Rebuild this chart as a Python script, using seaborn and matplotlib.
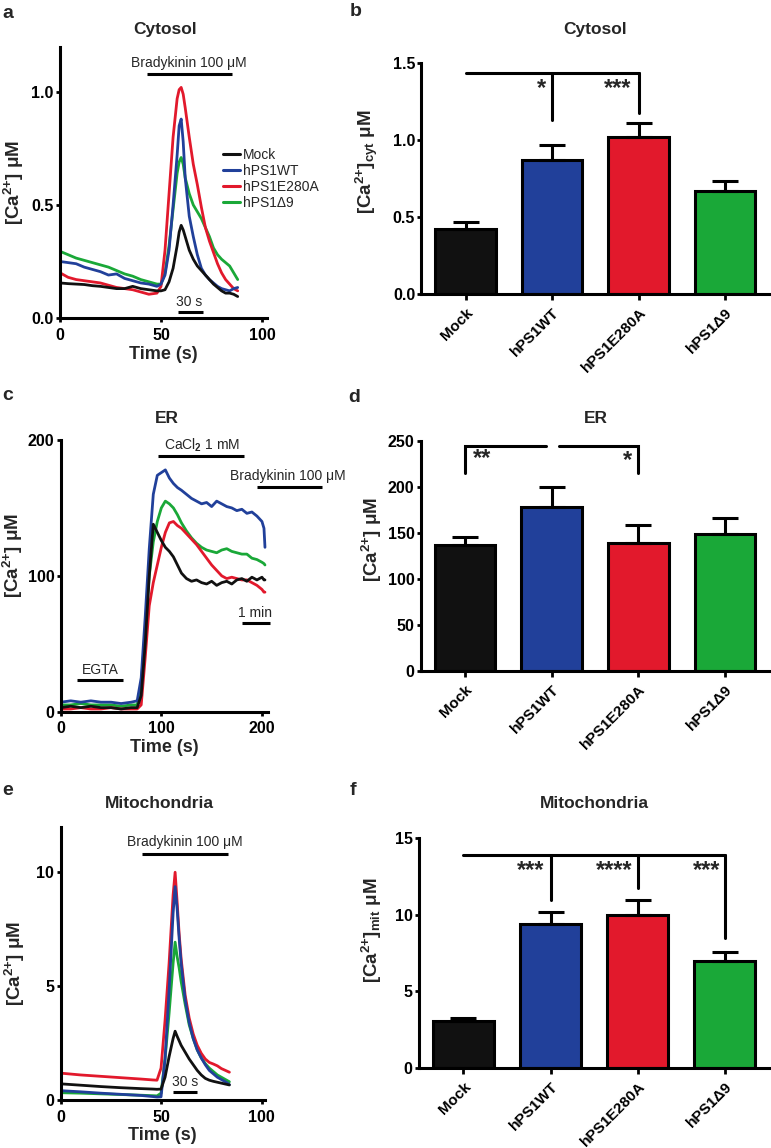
import numpy as np
import pandas as pd
import matplotlib
matplotlib.use('Agg')
import matplotlib.pyplot as plt
import seaborn as sns

# Groups and colours
groups = ['Mock', 'hPS1WT', 'hPS1E280A', 'hPS1Δ9']
colors = ['#111111', '#21409a', '#e2192c', '#1aa838']

# Bar values (mean and upper SEM)
cyt_mean = [0.42, 0.87, 1.02, 0.67]
cyt_sem = [0.05, 0.10, 0.09, 0.065]
er_mean = [137, 178, 139, 149]
er_sem = [9, 22, 20, 17]
mit_mean = [3.05, 9.4, 9.97, 6.95]
mit_sem = [0.2, 0.8, 1.0, 0.6]

# Cytosol traces (panel a)
cyt_t = [0, 4, 8, 12, 16, 20, 24, 28, 32, 36, 40, 44, 48, 50, 52, 54, 56, 58, 59, 60,
         61, 62, 64, 66, 68, 70, 72, 74, 76, 78, 80, 82, 84, 86, 88]
cyt_mock = [0.155, 0.152, 0.15, 0.148, 0.143, 0.14, 0.135, 0.13, 0.13, 0.14, 0.13, 0.125, 0.12, 0.12,
            0.125, 0.16, 0.22, 0.32, 0.38, 0.41, 0.39, 0.36, 0.30, 0.26, 0.23, 0.21, 0.19, 0.17, 0.15,
            0.135, 0.12, 0.11, 0.11, 0.105, 0.095]
cyt_wt = [0.25, 0.245, 0.24, 0.225, 0.215, 0.205, 0.19, 0.195, 0.175, 0.165, 0.155, 0.15, 0.14, 0.15,
          0.19, 0.30, 0.50, 0.72, 0.85, 0.88, 0.78, 0.62, 0.45, 0.36, 0.28, 0.22, 0.19, 0.17, 0.155,
          0.14, 0.13, 0.125, 0.12, 0.13, 0.135]
cyt_e280a = [0.20, 0.18, 0.17, 0.165, 0.16, 0.155, 0.145, 0.135, 0.13, 0.125, 0.115, 0.105, 0.11, 0.14,
             0.30, 0.55, 0.80, 0.97, 1.01, 1.02, 0.99, 0.93, 0.80, 0.68, 0.59, 0.49, 0.40, 0.34, 0.29,
             0.24, 0.20, 0.17, 0.15, 0.13, 0.12]
cyt_d9 = [0.295, 0.28, 0.265, 0.255, 0.245, 0.235, 0.225, 0.21, 0.195, 0.185, 0.17, 0.16, 0.15, 0.15,
          0.20, 0.32, 0.48, 0.64, 0.69, 0.71, 0.68, 0.62, 0.55, 0.50, 0.47, 0.44, 0.40, 0.36, 0.31,
          0.28, 0.26, 0.245, 0.23, 0.20, 0.17]

# ER traces (panel c)
er_t = [0, 10, 20, 30, 40, 50, 60, 70, 76, 80, 84, 88, 92, 96, 100, 104, 108, 112, 116, 120, 125,
        130, 135, 140, 145, 150, 155, 160, 165, 170, 175, 180, 185, 190, 195, 200, 202, 203]
er_mock = [3, 4, 3, 4, 3, 3, 2, 3, 3, 12, 50, 100, 138, 132, 126, 121, 118, 114, 108, 102, 98,
           96, 97, 95, 94, 96, 93, 95, 96, 94, 97, 98, 96, 99, 97, 99, 97, 97]
er_wt = [7, 8, 7, 8, 7, 7, 6, 7, 8, 25, 70, 120, 160, 174, 176, 178, 172, 168, 165, 163, 160,
         157, 155, 153, 154, 151, 155, 153, 151, 150, 148, 149, 146, 147, 144, 140, 135, 121]
er_e280a = [2, 2, 3, 2, 2, 3, 2, 2, 2, 5, 40, 78, 95, 108, 121, 132, 139, 140, 137, 135, 131,
            127, 123, 118, 113, 108, 104, 100, 98, 99, 98, 97, 97, 95, 93, 90, 88, 88]
er_d9 = [5, 5, 6, 5, 5, 5, 4, 5, 5, 20, 60, 100, 125, 140, 150, 155, 153, 150, 145, 139, 133,
         128, 124, 121, 119, 118, 117, 119, 120, 118, 117, 116, 116, 113, 112, 110, 109, 108]

# Mitochondria traces (panel e)
mit_t = [0, 10, 20, 30, 40, 46, 48, 50, 52, 54, 56, 57, 58, 59, 60, 62, 64, 66, 68, 70, 72,
         74, 76, 78, 80, 82, 84]
mit_mock = [0.71, 0.65, 0.59, 0.54, 0.50, 0.48, 0.47, 0.48, 1.0, 1.9, 2.7, 3.02, 2.8, 2.6, 2.4,
            2.1, 1.8, 1.55, 1.3, 1.1, 0.95, 0.87, 0.82, 0.78, 0.74, 0.70, 0.66]
mit_wt = [0.41, 0.36, 0.30, 0.25, 0.20, 0.15, 0.13, 0.14, 1.8, 4.8, 8.2, 9.37, 8.4, 7.1, 6.0,
          4.4, 3.4, 2.7, 2.2, 1.85, 1.55, 1.3, 1.15, 1.0, 0.9, 0.8, 0.68]
mit_e280a = [1.18, 1.10, 1.04, 0.98, 0.92, 0.88, 0.87, 1.4, 3.5, 6.0, 9.0, 10.0, 8.7, 7.3, 6.2,
             4.6, 3.6, 2.9, 2.4, 2.05, 1.8, 1.65, 1.58, 1.5, 1.38, 1.3, 1.22]
mit_d9 = [0.32, 0.30, 0.27, 0.24, 0.21, 0.19, 0.18, 0.3, 1.8, 3.8, 6.0, 6.93, 6.3, 5.8, 5.2,
          4.2, 3.3, 2.7, 2.2, 1.85, 1.6, 1.4, 1.25, 1.1, 1.0, 0.9, 0.8]

sns.set_theme(style='ticks')
plt.rcParams['font.family'] = ['Liberation Sans', 'DejaVu Sans']
plt.rcParams['font.weight'] = 'bold'
plt.rcParams['mathtext.fontset'] = 'custom'
plt.rcParams['mathtext.rm'] = 'Liberation Sans:bold'
plt.rcParams['mathtext.sf'] = 'Liberation Sans'
plt.rcParams['mathtext.it'] = 'Liberation Sans:bold'

W, H = 771, 1148
fig = plt.figure(figsize=(W / 100, H / 100), dpi=100)
LW = 2.2


def px_axes(l, t, r, b):
    return fig.add_axes([l / W, 1 - b / H, (r - l) / W, (b - t) / H])


def style_axes(ax):
    sns.despine(ax=ax)
    for s in ['left', 'bottom']:
        ax.spines[s].set_linewidth(LW)
        ax.spines[s].set_color('black')
    ax.tick_params(width=2, length=3, labelsize=11.5, pad=1.5, colors='black')


def trace_panel(ax, t, series, xlim, ylim, xticks, yticks, fmt):
    order = [3, 2, 1, 0]
    for i in order:
        df = pd.DataFrame({'t': t, 'v': series[i]})
        sns.lineplot(data=df, x='t', y='v', color=colors[i], lw=2, ax=ax,
                     estimator=None, sort=False, label=groups[i])
    ax.get_legend().remove()
    ax.set_xlim(*xlim)
    ax.set_ylim(*ylim)
    ax.set_xticks(xticks)
    ax.set_yticks(yticks)
    ax.set_yticklabels([fmt.format(v) for v in yticks])
    ax.set_xlabel('Time (s)', fontsize=13, fontweight='bold', labelpad=2)
    style_axes(ax)
    ax.tick_params(axis='x', pad=4)


def bar_panel(ax, means, sems, ylim, yticks, fmt):
    sns.barplot(x=groups, y=means, hue=groups, palette=colors, saturation=1, width=0.7,
                edgecolor='black', linewidth=LW, legend=False, ax=ax, errorbar=None)
    ax.errorbar(range(4), means, yerr=[[0] * 4, sems], fmt='none', ecolor='black',
                elinewidth=LW, capsize=9.5, capthick=LW, zorder=3)
    ax.set_xlim(-0.51, 3.53)
    ax.set_ylim(*ylim)
    ax.set_yticks(yticks)
    ax.set_yticklabels([fmt.format(v) for v in yticks])
    style_axes(ax)
    ax.tick_params(axis='x', length=4, pad=4, labelsize=11)
    for lab in ax.get_xticklabels():
        lab.set_rotation(45)
        lab.set_ha('right')
        lab.set_va('top')
        lab.set_rotation_mode('anchor')


def hline(ax, x0, x1, y):
    ax.plot([x0, x1], [y, y], color='black', lw=LW, clip_on=False, solid_capstyle='butt')


def note(ax, x, y, s):
    ax.text(x, y, s, ha='center', va='center', fontsize=10, fontweight='normal', clip_on=False)


def bracket(ax, pts):
    xs = [p[0] for p in pts]
    ys = [p[1] for p in pts]
    ax.plot(xs, ys, color='black', lw=LW, clip_on=False, solid_joinstyle='miter')


def star(ax, x, y, s):
    ax.text(x, y, s, ha='center', va='center', fontsize=17, fontweight='bold')


ylab = r'[Ca$^{2{+}}$] μM'
YFS = 13.5

# ---- a: cytosol traces
ax_a = px_axes(60, 46.7, 267, 318)
trace_panel(ax_a, cyt_t, [cyt_mock, cyt_wt, cyt_e280a, cyt_d9], (0, 102.5), (0, 1.2),
            [0, 50, 100], [0, 0.5, 1.0], '{:.1f}')
ax_a.set_ylabel(ylab, fontsize=YFS, fontweight='bold')
ax_a.yaxis.set_label_coords(-0.164, 0.5)
hline(ax_a, 43, 85, 1.08)
note(ax_a, 64, 1.13, 'Bradykinin 100 μM')
hline(ax_a, 58.3, 70.6, 0.027)
note(ax_a, 64, 0.07, '30 s')
handles = [plt.Line2D([], [], color=c, lw=2.2) for c in colors]
ax_a.legend(handles, groups, loc='upper left', bbox_to_anchor=(0.787, 0.627), frameon=False,
            prop={'weight': 'normal', 'size': 10}, handlelength=1.2, handletextpad=0.25,
            labelspacing=0.15, borderpad=0, borderaxespad=0)

# ---- b: cytosol bars
ax_b = px_axes(421.5, 63, 771, 294)
bar_panel(ax_b, cyt_mean, cyt_sem, (0, 1.5), [0, 0.5, 1.0, 1.5], '{:.1f}')
ax_b.set_ylabel(r'[Ca$^{2{+}}$]$_{cyt}$ μM', fontsize=YFS, fontweight='bold')
ax_b.yaxis.set_label_coords(-0.119, 0.573)
bracket(ax_b, [(0, 1.435), (2, 1.435)])
bracket(ax_b, [(1, 1.435), (1, 1.127)])
bracket(ax_b, [(2, 1.435), (2, 1.175)])
star(ax_b, 0.88, 1.337, '*')
star(ax_b, 1.76, 1.337, '***')

# ---- c: ER traces
ax_c = px_axes(60.7, 440, 268, 711.7)
trace_panel(ax_c, er_t, [er_mock, er_wt, er_e280a, er_d9], (0, 206), (0, 200),
            [0, 100, 200], [0, 100, 200], '{:.0f}')
ax_c.set_ylabel(ylab, fontsize=YFS, fontweight='bold')
ax_c.yaxis.set_label_coords(-0.172, 0.577)
hline(ax_c, 97, 182, 188)
ax_c.text(140, 196, r'CaCl$_{\mathsf{2}}$ 1 mM', ha='center', va='center', fontsize=10,
          fontweight='normal')
hline(ax_c, 195, 260, 165.7)
note(ax_c, 226, 173.5, 'Bradykinin 100 μM')
hline(ax_c, 180, 207.6, 65.5)
note(ax_c, 193, 72.5, '1 min')
hline(ax_c, 16, 62, 23)
note(ax_c, 39, 31, 'EGTA')

# ---- d: ER bars
ax_d = px_axes(420.7, 441, 771, 671)
bar_panel(ax_d, er_mean, er_sem, (0, 250), [0, 50, 100, 150, 200, 250], '{:.0f}')
ax_d.set_ylabel(ylab, fontsize=YFS, fontweight='bold')
ax_d.yaxis.set_label_coords(-0.105, 0.57)
bracket(ax_d, [(0, 215.6), (0, 244.6), (0.94, 244.6)])
bracket(ax_d, [(1.08, 244.6), (2, 244.6), (2, 215.6)])
star(ax_d, 0.20, 231, '**')
star(ax_d, 1.88, 229, '*')

# ---- e: mitochondria traces
ax_e = px_axes(60.5, 826.7, 265, 1100)
trace_panel(ax_e, mit_t, [mit_mock, mit_wt, mit_e280a, mit_d9], (0, 101.7), (0, 12),
            [0, 50, 100], [0, 5, 10], '{:.0f}')
ax_e.set_ylabel(ylab, fontsize=YFS, fontweight='bold')
ax_e.yaxis.set_label_coords(-0.164, 0.5)
hline(ax_e, 40.6, 83.4, 10.8)
note(ax_e, 61.7, 11.35, 'Bradykinin 100 μM')
hline(ax_e, 55.7, 68, 0.34)
note(ax_e, 61.9, 0.78, '30 s')

# ---- f: mitochondria bars
ax_f = px_axes(419, 838, 771, 1068)
bar_panel(ax_f, mit_mean, mit_sem, (0, 15), [0, 5, 10, 15], '{:.0f}')
ax_f.set_ylabel(r'[Ca$^{2{+}}$]$_{mit}$ μM', fontsize=YFS, fontweight='bold')
ax_f.yaxis.set_label_coords(-0.1, 0.6)
bracket(ax_f, [(0, 13.87), (3, 13.87)])
bracket(ax_f, [(1, 13.87), (1, 10.95)])
bracket(ax_f, [(2, 13.87), (2, 11.77)])
bracket(ax_f, [(3, 13.87), (3, 8.45)])
star(ax_f, 0.77, 12.9, '***')
star(ax_f, 1.73, 12.9, '****')
star(ax_f, 2.79, 12.9, '***')

# titles and panel letters (pixel positions)
titles = [('Cytosol', 165, 34), ('Cytosol', 595, 34), ('ER', 167, 423), ('ER', 596, 423),
          ('Mitochondria', 159, 808), ('Mitochondria', 594, 808)]
for s, x, y in titles:
    fig.text(x / W, 1 - y / H, s, ha='center', va='baseline', fontsize=12.5, fontweight='bold')
letters = [('a', 2, 18), ('b', 350, 16), ('c', 2, 400), ('d', 348, 402), ('e', 2, 795), ('f', 350, 795)]
for s, x, y in letters:
    fig.text(x / W, 1 - y / H, s, ha='left', va='baseline', fontsize=14, fontweight='bold')

fig.savefig('out.png', dpi=100)
